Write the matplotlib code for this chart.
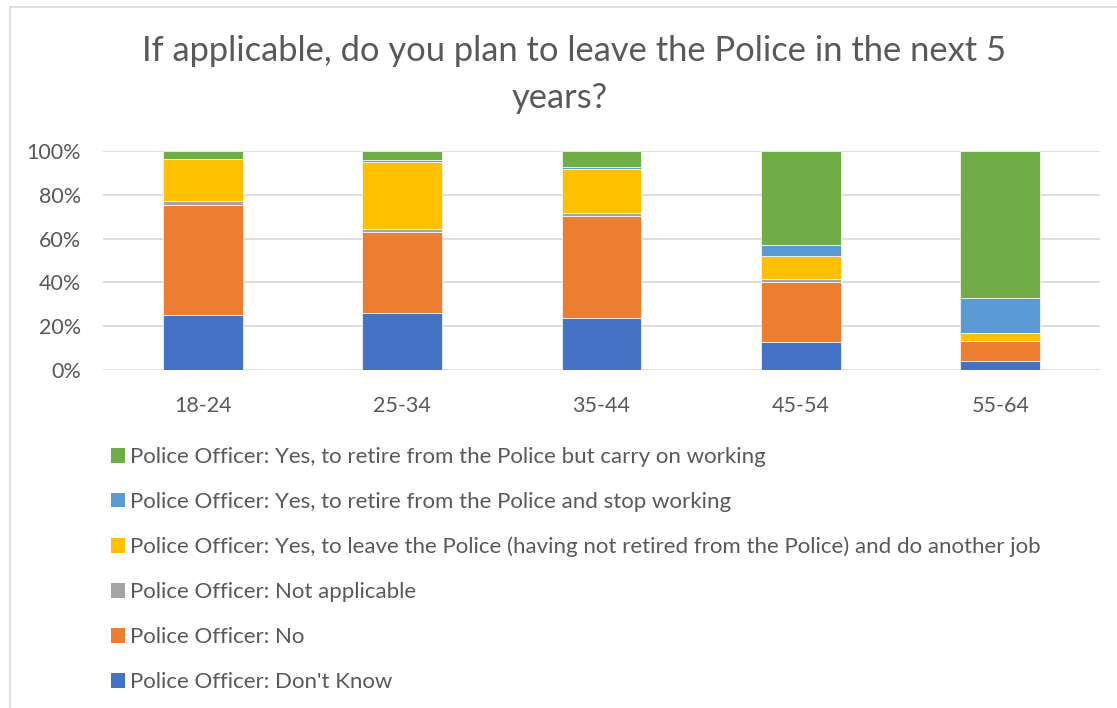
import matplotlib
matplotlib.use("Agg")
import matplotlib.pyplot as plt
from matplotlib.patches import Rectangle, Patch
import numpy as np

plt.rcParams["font.family"] = ["Lato", "DejaVu Sans"]

TXT, GRID = "#595959", "#D9D9D9"

ages = ["18-24", "25-34", "35-44", "45-54", "55-64"]

# shares in percent, bottom segment first
dont_know = [25.2, 25.8, 23.6, 13.0, 4.1]
no = [50.0, 37.0, 46.8, 27.3, 9.3]
not_applicable = [1.8, 1.5, 1.5, 1.1, 0.0]
leave_other_job = [19.5, 30.8, 20.1, 10.5, 3.7]
retire_stop = [0.0, 0.8, 0.9, 5.2, 15.8]
retire_work = [3.5, 4.1, 7.1, 42.9, 67.1]

labels = [
    "Police Officer: Don't Know",
    "Police Officer: No",
    "Police Officer: Not applicable",
    "Police Officer: Yes, to leave the Police (having not retired from the Police) and do another job",
    "Police Officer: Yes, to retire from the Police and stop working",
    "Police Officer: Yes, to retire from the Police but carry on working",
]
colors = ["#4472C4", "#ED7D31", "#A5A5A5", "#FFC000", "#5B9BD5", "#70AD47"]
series = [dont_know, no, not_applicable, leave_other_job, retire_stop, retire_work]

W, H = 1117, 708
fig = plt.figure(figsize=(W / 100, H / 100), dpi=100)
fig.patch.set_facecolor("white")

# chart-area border (only left/top visible inside the frame)
fig.patches.append(Rectangle((10 / W, -0.05), 1.2, 1.05 - 7 / H,
                             transform=fig.transFigure, fill=False,
                             edgecolor=GRID, linewidth=1.2))

ax = fig.add_axes([103 / W, (H - 370) / H, 997 / W, 219 / H])
x = np.arange(len(ages))
bottom = np.zeros(len(ages))
for vals, col in zip(series, colors):
    v = np.array(vals) / 100
    ax.bar(x, v, width=0.4, bottom=bottom, color=col, edgecolor="white",
           linewidth=0.5, zorder=3)
    bottom += v

ax.set_xlim(-0.5, len(ages) - 0.5)
ax.set_ylim(0, 1)
ax.set_yticks(np.arange(0, 1.01, 0.2))
ax.set_yticklabels([f"{int(round(t * 100))}%" for t in np.arange(0, 1.01, 0.2)])
ax.set_xticks(x)
ax.set_xticklabels(ages)
ax.tick_params(length=0, labelsize=15.5, colors=TXT)
ax.tick_params(axis="y", pad=16)
ax.tick_params(axis="x", pad=19)
ax.grid(axis="y", color=GRID, linewidth=1.2, zorder=0)
for s in ax.spines.values():
    s.set_visible(False)

fig.text(0.514, 1 - 51 / H, "If applicable, do you plan to leave the Police in the next 5",
         ha="center", va="center", fontsize=24.8, color=TXT)
fig.text(0.501, 1 - 98 / H, "years?", ha="center", va="center",
         fontsize=24.8, color=TXT)

handles = [Patch(facecolor=c, edgecolor="none") for c in colors][::-1]
leg = fig.legend(handles, labels[::-1], loc="upper left",
                 bbox_to_anchor=(100 / W, 1 - 436 / H), frameon=False,
                 fontsize=16, labelcolor=TXT, handlelength=0.63,
                 handleheight=0.63, handletextpad=0.22, labelspacing=1.12,
                 borderpad=0)

fig.savefig("out.png", dpi=100, facecolor="white")
